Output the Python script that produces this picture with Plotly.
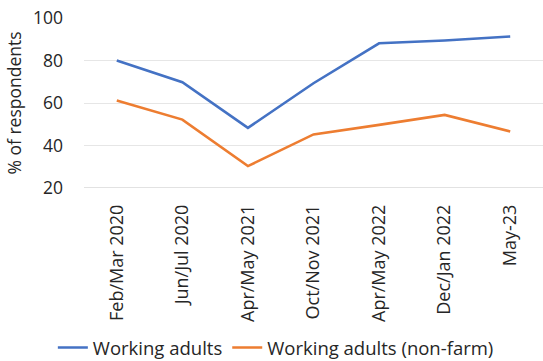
import plotly.graph_objects as go

periods = ["Feb/Mar 2020", "Jun/Jul 2020", "Apr/May 2021", "Oct/Nov 2021",
           "Apr/May 2022", "Dec/Jan 2022", "May-23"]
working_adults = [80.0, 69.8, 48.3, 69.3, 88.1, 89.4, 91.3]
working_adults_nonfarm = [61.2, 52.2, 30.3, 45.2, 49.7, 54.4, 46.6]
y_ticks = [20, 40, 60, 80, 100]

FONT = "Open Sans"
TXT = "#262626"

fig = go.Figure()
fig.add_trace(go.Scatter(x=periods, y=working_adults, mode="lines",
                         name="Working adults",
                         line=dict(color="#4472C4", width=2.6)))
fig.add_trace(go.Scatter(x=periods, y=working_adults_nonfarm, mode="lines",
                         name="Working adults (non-farm)",
                         line=dict(color="#ED7D31", width=2.6)))

fig.update_layout(
    width=543, height=361,
    margin=dict(l=84, r=0, t=18, b=173),
    paper_bgcolor="white", plot_bgcolor="white",
    font=dict(family=FONT, size=17.5, color=TXT),
    showlegend=True,
    legend=dict(orientation="h", xref="container", yref="container",
                x=0.508, xanchor="center", y=0.036, yanchor="middle",
                font=dict(family=FONT, size=18.5, color=TXT),
                itemwidth=30, traceorder="normal", tracegroupgap=0),
    xaxis=dict(type="category", range=[-0.5, 6.5], tickangle=-90, showgrid=False,
               showline=False, ticks="", tickfont=dict(size=18),
               ticklabelstandoff=12, automargin=False),
    yaxis=dict(range=[20, 100], tickvals=y_ticks, showgrid=True,
               gridcolor="#E6E6E6", gridwidth=1, zeroline=False,
               ticks="", tickfont=dict(size=17.5), ticklabelstandoff=20,
               automargin=False,
               title=dict(text="% of respondents", font=dict(size=17.5), standoff=6)),
)
# baseline along the 20% gridline
fig.add_shape(type="line", xref="paper", yref="y", x0=0, x1=1, y0=20, y1=20,
              line=dict(color="#D9D9D9", width=1.5))

fig.write_html("out.html")
